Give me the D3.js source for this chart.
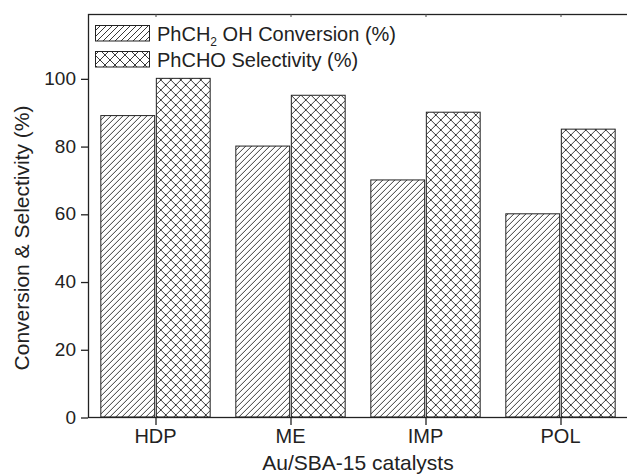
<!DOCTYPE html>
<html>
<head>
<meta charset="utf-8">
<script src="https://cdn.jsdelivr.net/npm/d3@7"></script>
<style>
  body { margin: 0; background: #fff; }
  svg { display: block; font-family: Arial, "Liberation Sans", sans-serif; }
</style>
</head>
<body>
<div id="chart"></div>
<script>
// data
var categories = ["HDP", "ME", "IMP", "POL"];
var seriesNames = ["conv", "sel"];
var conversion = [89, 80, 70, 60];
var selectivity = [100, 95, 90, 85];
var yTicks = [0, 20, 40, 60, 80, 100];

var vWidth = 627, vHeight = 474;
var margin = { top: 14, left: 88, bottom: 417, right: 628 };

var svg = d3.select("#chart").append("svg")
    .attr("width", vWidth)
    .attr("height", vHeight);

// patterns
var defs = svg.append("defs");
var hatch = defs.append("pattern")
    .attr("id", "hatch")
    .attr("patternUnits", "userSpaceOnUse")
    .attr("width", 6).attr("height", 6);
hatch.append("path")
    .attr("d", "M-1,1 l2,-2 M0,6 l6,-6 M5,7 l2,-2")
    .attr("stroke", "#222").attr("stroke-width", 0.9);

var cross = defs.append("pattern")
    .attr("id", "cross")
    .attr("patternUnits", "userSpaceOnUse")
    .attr("width", 10).attr("height", 10);
cross.append("path")
    .attr("d", "M0,0 L10,10 M10,0 L0,10")
    .attr("stroke", "#222").attr("stroke-width", 0.9);

var fills = { conv: "url(#hatch)", sel: "url(#cross)" };

var x0 = d3.scaleBand()
    .domain(categories)
    .range([margin.left, margin.right])
    .paddingInner(0.19)
    .paddingOuter(0.095);

var x1 = d3.scaleBand()
    .domain(seriesNames)
    .range([0, x0.bandwidth()])
    .paddingInner(0.03);

var y = d3.scaleLinear()
    .domain([0, 119])
    .range([margin.bottom, margin.top]);

var rows = categories.map(function (c, i) {
    return { cat: c, conv: conversion[i], sel: selectivity[i] };
});

// bars
var groups = svg.selectAll("g.grp")
    .data(rows)
    .enter().append("g")
    .attr("class", "grp")
    .attr("transform", function (d) { return "translate(" + x0(d.cat) + ",0)"; });

groups.selectAll("rect")
    .data(function (d) {
        return seriesNames.map(function (s) { return { key: s, value: d[s] }; });
    })
    .enter().append("rect")
    .attr("x", function (d) { return x1(d.key); })
    .attr("y", function (d) { return y(d.value); })
    .attr("width", x1.bandwidth())
    .attr("height", function (d) { return y(0) - y(d.value); })
    .attr("fill", function (d) { return fills[d.key]; })
    .attr("stroke", "#222")
    .attr("stroke-width", 1);

// frame
svg.append("rect")
    .attr("x", margin.left + 0.5)
    .attr("y", margin.top + 0.5)
    .attr("width", margin.right - margin.left)
    .attr("height", margin.bottom - margin.top)
    .attr("fill", "none")
    .attr("stroke", "#222")
    .attr("stroke-width", 1.3);

// axes
var xAxis = svg.append("g")
    .attr("transform", "translate(0," + margin.bottom + ")")
    .call(d3.axisBottom(x0).tickSizeOuter(0).tickSizeInner(8).tickPadding(4));
xAxis.select(".domain").remove();
xAxis.selectAll("line").attr("stroke", "#222").attr("stroke-width", 1.3)
    .attr("transform", "translate(0.5,0)");
xAxis.selectAll("text").attr("font-size", 20).attr("fill", "#222")
    .attr("font-family", "Arial, 'Liberation Sans', sans-serif");

var xTop = svg.append("g")
    .attr("transform", "translate(0," + margin.top + ")")
    .call(d3.axisBottom(x0).tickSizeOuter(0).tickSizeInner(3).tickFormat(""));
xTop.select(".domain").remove();
xTop.selectAll("line").attr("stroke", "#444").attr("transform", "translate(0.5,0)");

var yAxis = svg.append("g")
    .attr("transform", "translate(" + margin.left + ",0)")
    .call(d3.axisLeft(y).tickValues(yTicks).tickSizeOuter(0).tickSizeInner(7).tickPadding(5));
yAxis.select(".domain").remove();
yAxis.selectAll("line").attr("stroke", "#222").attr("stroke-width", 1.3)
    .attr("transform", "translate(0,0.5)");
yAxis.selectAll("text").attr("font-size", 19).attr("fill", "#222")
    .attr("font-family", "Arial, 'Liberation Sans', sans-serif");

// axis titles
svg.append("text")
    .attr("x", (margin.left + margin.right) / 2)
    .attr("y", 470)
    .attr("text-anchor", "middle")
    .attr("font-size", 21)
    .attr("fill", "#222")
    .text("Au/SBA-15 catalysts");

svg.append("text")
    .attr("transform", "translate(29,238) rotate(-90)")
    .attr("text-anchor", "middle")
    .attr("font-size", 21)
    .attr("fill", "#222")
    .text("Conversion & Selectivity (%)");

// legend
var legend = svg.append("g");
legend.append("rect")
    .attr("x", 95.5).attr("y", 25.5).attr("width", 54).attr("height", 15.5)
    .attr("fill", "url(#hatch)").attr("stroke", "#222");
legend.append("rect")
    .attr("x", 95.5).attr("y", 51.5).attr("width", 54).attr("height", 15.5)
    .attr("fill", "url(#cross)").attr("stroke", "#222");

var t1 = legend.append("text")
    .attr("x", 157).attr("y", 41)
    .attr("font-size", 20).attr("fill", "#222");
t1.append("tspan").text("PhCH");
t1.append("tspan").attr("dy", 5).attr("font-size", 12).text("2");
t1.append("tspan").attr("dy", -5).text(" OH Conversion (%)");

legend.append("text")
    .attr("x", 157).attr("y", 67)
    .attr("font-size", 20).attr("fill", "#222")
    .text("PhCHO Selectivity (%)");
</script>
</body>
</html>
